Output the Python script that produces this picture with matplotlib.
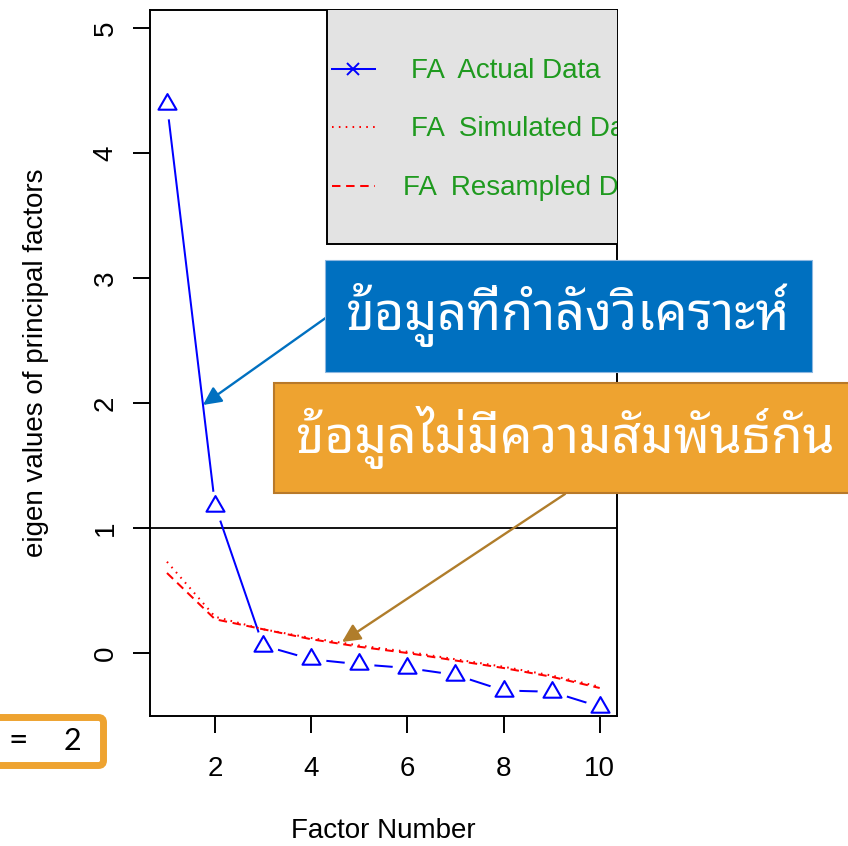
import numpy as np
import matplotlib
matplotlib.use("Agg")
import matplotlib.pyplot as plt
from matplotlib import font_manager
from matplotlib.ft2font import FT2Font
from matplotlib.patches import Rectangle, FancyBboxPatch
from matplotlib.lines import Line2D
from matplotlib.path import Path

# ---- data -------------------------------------------------------------
factors = np.arange(1, 11)
actual = [4.39, 1.18, 0.06, -0.05, -0.09, -0.12, -0.175, -0.30, -0.31, -0.43]
simulated = [0.73, 0.29, 0.19, 0.12, 0.06, 0.01, -0.05, -0.11, -0.18, -0.27]
resampled = [0.64, 0.27, 0.19, 0.11, 0.05, 0.00, -0.06, -0.12, -0.19, -0.28]
x_ticks = [2, 4, 6, 8, 10]
y_ticks = [0, 1, 2, 3, 4, 5]
legend_labels = ["FA  Actual Data", "FA  Simulated Data", "FA  Resampled Data"]
x_label = "Factor Number"
y_label = "eigen values of principal factors"
note_actual = "ข้อมูลที่กำลังวิเคราะห์"
note_random = "ข้อมูลไม่มีความสัมพันธ์กัน"
n_factors = 2


def thai_family():
    """Return the name of an installed family that covers Thai script."""
    preferred = ["Leelawadee UI", "Tahoma", "Noto Sans Thai Looped",
                 "Noto Sans Thai", "Noto Sans Thai UI", "Sarabun", "Loma",
                 "Garuda", "Norasi", "Waree", "Umpush", "Kinnari"]
    found = []
    for f in font_manager.fontManager.ttflist:
        try:
            cmap = FT2Font(f.fname).get_charmap()
        except Exception:
            continue
        if 0x0E01 in cmap and 0x0E49 in cmap:
            found.append(f.name)
    for name in preferred:
        if name in found:
            return name
    return found[0] if found else "DejaVu Sans"


THAI = thai_family()
plt.rcParams["font.family"] = ["Liberation Sans", "DejaVu Sans"]

W, H = 848, 846
fig = plt.figure(figsize=(W / 100, H / 100), dpi=100)


def fx(x):
    return x / W


def fy(y):
    return 1 - y / H


ax = fig.add_axes([fx(150), fy(716), 467 / W, 706 / H])
ax.set_xlim(0.647, 10.36)
ax.set_ylim(-0.504, 5.144)

LW = 1.45

# open triangle (R pch = 2) centred on its centroid
tri = Path([(-1, -0.577), (1, -0.577), (0, 1.155), (-1, -0.577)],
           [Path.MOVETO, Path.LINETO, Path.LINETO, Path.CLOSEPOLY])

# actual-data eigenvalues: line with gaps around the points (type = "b")
ax.plot(factors, actual, color="#0000FF", lw=LW, zorder=1.5)
ax.plot(factors, actual, ls="none", marker="o", ms=21.5, mfc="white",
        mec="none", zorder=1.6)
ax.plot(factors, actual, ls="none", marker=tri, ms=15, mfc="none",
        mec="#0000FF", mew=1.5, zorder=1.7)

# simulated and resampled eigenvalues
dot = [0.8, 2.6]
dash = [4.2, 2.8]
ax.plot(factors, simulated, color="#FF0000", lw=LW, dashes=dot, zorder=1.8)
ax.plot(factors, resampled, color="#FF0000", lw=LW, dashes=dash, zorder=1.8)

# reference line at eigenvalue 1
ax.axhline(1, color="black", lw=1.3, zorder=1.4)

ax.set_xticks(x_ticks)
ax.set_yticks(y_ticks)
for s in ax.spines.values():
    s.set_linewidth(1.4)
ax.tick_params(axis="both", length=12.5, width=1.4, labelsize=20, colors="black")
ax.tick_params(axis="x", pad=16)
ax.tick_params(axis="y", pad=10, labelrotation=90)
for lab in ax.get_yticklabels():
    lab.set_va("center")

ax.set_xlabel(x_label, fontsize=20, va="baseline")
ax.xaxis.set_label_coords(0.5, -(838 - 716) / 706)
ax.set_ylabel(y_label, fontsize=20, va="center")
ax.yaxis.set_label_coords(-0.244, 0.5)

# legend box, clipped at the plot region like the base-graphics legend
green = "#1F9A1F"
ax.add_patch(Rectangle((0.379, 0.6686), 0.8, 0.36, transform=ax.transAxes,
                       facecolor="#E3E3E3", edgecolor="black", lw=1.4,
                       clip_on=True, zorder=3))
row_y = [0.9164, 0.8343, 0.7507]
base_y = [(716 - 78) / 706, (716 - 136.5) / 706, (716 - 195) / 706]
text_x = [0.5589, 0.5589, 0.5418]
samples = [dict(color="#0000FF", lw=LW, ls="-"),
           dict(color="#FF0000", lw=LW, dashes=dot),
           dict(color="#FF0000", lw=LW, dashes=dash)]
for i, lab in enumerate(legend_labels):
    ax.add_line(Line2D([0.3897, 0.4818], [row_y[i]] * 2, transform=ax.transAxes,
                       zorder=4, **samples[i]))
    ax.text(text_x[i], base_y[i], lab, transform=ax.transAxes, fontsize=20,
            color=green, va="baseline", ha="left", clip_on=True, zorder=4)
ax.add_line(Line2D([(0.3897 + 0.4818) / 2], [row_y[0]], transform=ax.transAxes,
                   marker="x", ms=8.6, mew=1.4, color="#0000FF", ls="none", zorder=4))

# callout boxes
fig.add_artist(Rectangle((fx(325), fy(372)), (812 - 325) / W, (372 - 260) / H,
                         transform=fig.transFigure, facecolor="#0070C0",
                         edgecolor="#8DB7E0", lw=0.8, zorder=5))
fig.add_artist(Rectangle((fx(274), fy(493)), (860 - 274) / W, (493 - 383) / H,
                         transform=fig.transFigure, facecolor="#EEA330",
                         edgecolor="#B8792A", lw=1.5, zorder=5))
fig.text(fx(568), fy(315), note_actual, ha="center", va="center", color="white",
         fontsize=37.5, family=[THAI, "DejaVu Sans"], zorder=6)
fig.text(fx(565), fy(437), note_random, ha="center", va="center", color="white",
         fontsize=37, family=[THAI, "DejaVu Sans"], zorder=6)

# arrows from the callouts to the curves
ax.annotate("", xy=(1.748, 1.984), xycoords="data",
            xytext=(fx(327), fy(317)), textcoords="figure fraction",
            arrowprops=dict(arrowstyle="-|>,head_length=0.55,head_width=0.27",
                            mutation_scale=20, color="#0070C0", lw=1.7,
                            shrinkA=0, shrinkB=0),
            annotation_clip=False, zorder=10)
ax.annotate("", xy=(4.64, 0.088), xycoords="data",
            xytext=(fx(565), fy(494)), textcoords="figure fraction",
            arrowprops=dict(arrowstyle="-|>,head_length=0.55,head_width=0.27",
                            mutation_scale=20, color="#B07D2B", lw=1.7,
                            shrinkA=0, shrinkB=0),
            annotation_clip=False, zorder=10)

# number-of-factors badge at the lower left
fig.add_artist(FancyBboxPatch((fx(-60), fy(765.5)), (163.5) / W, (765.5 - 717.5) / H,
                              boxstyle="round,pad=0,rounding_size=0.006",
                              transform=fig.transFigure, facecolor="white",
                              edgecolor="#EEA330", lw=5, zorder=5))
fig.text(fx(18.5), fy(741), "=", ha="center", va="center", fontsize=24,
         family=["Lato", "DejaVu Sans"], color="black", zorder=6)
fig.text(fx(72), fy(741), str(n_factors), ha="center", va="center", fontsize=22,
         family=["Lato", "DejaVu Sans"], color="black", zorder=6)

fig.savefig("out.png", dpi=100)
